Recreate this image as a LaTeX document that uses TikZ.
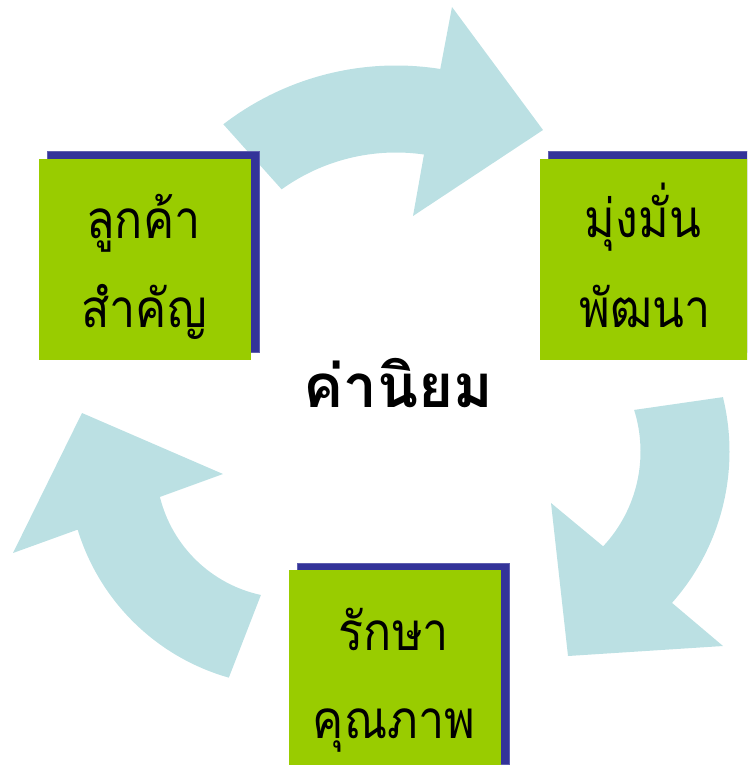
\documentclass[tikz,border=0pt]{standalone}
\usepackage{graphicx}
\usepackage{fontspec}
\newfontfamily\thaifont[Script=Thai]{Loma}
\usetikzlibrary{calc}
\definecolor{arrowc}{RGB}{187,224,227}
\definecolor{boxg}{RGB}{153,204,0}
\definecolor{boxb}{RGB}{51,51,153}
\definecolor{boxbe}{RGB}{95,95,175}
\newcommand{\narrowthai}[1]{\scalebox{0.88}[1]{#1}}
\tikzset{
  arrowshape/.style={fill=arrowc},
  greenbox/.style={fill=boxg, minimum width=212pt, minimum height=201pt, inner sep=0pt, anchor=north west},
  shadowbox/.style={fill=boxb, draw=boxbe, line width=0.8pt, minimum width=212pt, minimum height=201pt, inner sep=0pt, anchor=north west},
  boxlabel/.style={anchor=base, inner sep=0pt, font=\thaifont\fontsize{53}{53}\selectfont},
  centerlabel/.style={anchor=base, inner sep=0pt, font=\thaifont\bfseries\fontsize{60}{60}\selectfont}
}
\begin{document}
\begin{tikzpicture}[x=1pt,y=-1pt]
\useasboundingbox (0,0) rectangle (747,765);
\clip (0,0) rectangle (747,765);
% arc centres
\coordinate (c1) at (396,348.5);
\coordinate (c2) at (501.5,451.5);
\coordinate (c3) at (289,465);
% top arrow
\fill[arrowshape] ($(c1)+(127.6:283pt)$) arc[start angle=127.6, end angle=81, radius=283pt]
  -- (452,7) -- (543,130) -- (413,216)
  -- ($(c1)+(81.8:196pt)$) arc[start angle=81.8, end angle=125.7, radius=196pt] -- cycle;
% right arrow
\fill[arrowshape] ($(c2)+(13.8:228pt)$) arc[start angle=13.8, end angle=-41.6, radius=228pt]
  -- (723,646) -- (568,656) -- (551,503)
  -- ($(c2)+(-43:139pt)$) arc[start angle=-43, end angle=17.4, radius=139pt] -- cycle;
% left arrow
\fill[arrowshape] ($(c3)+(-105.8:221pt)$) arc[start angle=-105.8, end angle=-163, radius=221pt]
  -- (13,553) -- (82,413) -- (223,474)
  -- ($(c3)+(-166.1:133pt)$) arc[start angle=-166.1, end angle=-102.2, radius=133pt] -- cycle;
% boxes
\node[shadowbox] (s1) at (46.5,150.5) {};
\node[greenbox] (b1) at (39,159) {};
\node[shadowbox] (s2) at (547.5,150.5) {};
\node[greenbox] (b2) at (540,159) {};
\node[shadowbox] (s3) at (296.5,562.5) {};
\node[greenbox] (b3) at (289,570) {};
% labels
\node[boxlabel] (l1a) at (143.5,238) {\narrowthai{ลูกค้า}};
\node[boxlabel] (l1b) at (144,327) {\narrowthai{สำคัญ}};
\node[boxlabel] (l2a) at (643,237) {\narrowthai{มุ่งมั่น}};
\node[boxlabel] (l2b) at (645,327) {\narrowthai{พัฒนา}};
\node[boxlabel] (l3a) at (394,650) {\narrowthai{รักษา}};
\node[boxlabel] (l3b) at (394,738) {\narrowthai{คุณภาพ}};
\node[centerlabel] (core) at (398,407) {ค่านิยม};
\end{tikzpicture}
\end{document}
